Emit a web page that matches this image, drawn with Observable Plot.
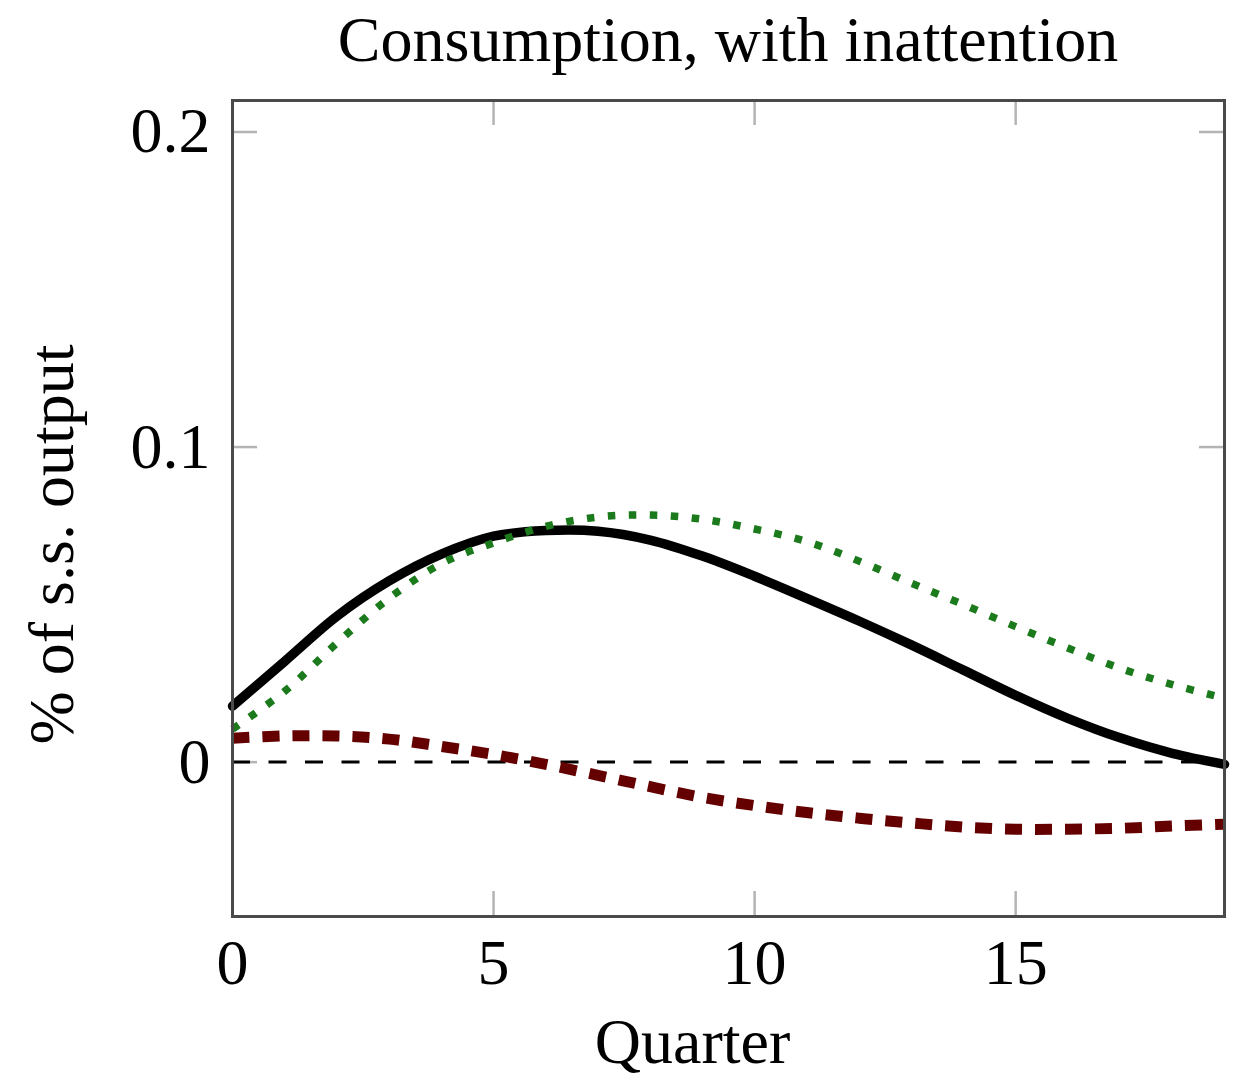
<!DOCTYPE html>
<html>
<head>
<meta charset="utf-8">
<script src="https://cdn.jsdelivr.net/npm/d3@7"></script>
<script src="https://cdn.jsdelivr.net/npm/@observablehq/plot@0.6"></script>
<style>
  html, body { margin: 0; padding: 0; background: #fff; }
  #title {
    width: 1236px; height: 80px; box-sizing: border-box;
    padding-left: 232px; padding-right: 12px;
    text-align: center;
    font-family: "Liberation Serif", serif; font-size: 64px;
    line-height: 80px; color: #000;
  }
  #chart svg { display: block; }
</style>
</head>
<body>
<div id="title">Consumption, with inattention</div>
<div id="chart"></div>
<script>
// Impulse responses of consumption over 20 quarters (% of steady-state output)
const quarters = d3.range(0, 20);
const baseline = [0.0178, 0.032, 0.0463, 0.0575, 0.066, 0.0717, 0.0735, 0.0733, 0.0705, 0.0654,
                  0.059, 0.052, 0.0448, 0.0372, 0.0292, 0.0212, 0.0139, 0.0077, 0.0028, -0.0007];
const dotted   = [0.0105, 0.0225, 0.0378, 0.052, 0.063, 0.0696, 0.0748, 0.0778, 0.0784, 0.0771,
                  0.074, 0.070, 0.0638, 0.0568, 0.050, 0.043, 0.0362, 0.0298, 0.0246, 0.0203];
const dashed   = [0.0076, 0.0083, 0.0083, 0.0073, 0.005, 0.0024, -0.0007, -0.0042, -0.0078, -0.0112,
                  -0.0138, -0.016, -0.0178, -0.0193, -0.0206, -0.0213, -0.0213, -0.021, -0.0203, -0.0197];
const xTicks = [0, 5, 10, 15];
const yTicks = [0, 0.1, 0.2];

const W = 1236, H = 1002;
const mTop = 20, mBottom = 166, mLeft = 232, mRight = 12;
const frameH = H - mTop - mBottom;
const frameW = W - mLeft - mRight;
const tickLen = 25;
const tickColor = "#b4b4b4";
const fontSize = 64;

const series = (vals) => quarters.map((q, i) => ({q, v: vals[i]}));

const chart = Plot.plot({
  width: W,
  height: H,
  marginTop: mTop,
  marginBottom: mBottom,
  marginLeft: mLeft,
  marginRight: mRight,
  style: {fontFamily: "Liberation Serif, serif", fontSize: `${fontSize}px`, color: "#000", background: "#fff"},
  x: {domain: [0, 19]},
  y: {domain: [-0.049, 0.21]},
  marks: [
    // inward ticks on all four sides
    Plot.tickX(xTicks, {x: d => d, stroke: tickColor, strokeWidth: 2.5, insetTop: frameH - tickLen}),
    Plot.tickX(xTicks, {x: d => d, stroke: tickColor, strokeWidth: 2.5, insetBottom: frameH - tickLen}),
    Plot.tickY(yTicks, {y: d => d, stroke: tickColor, strokeWidth: 2.5, insetRight: frameW - tickLen}),
    Plot.tickY(yTicks, {y: d => d, stroke: tickColor, strokeWidth: 2.5, insetLeft: frameW - tickLen}),
    // tick labels
    Plot.axisX(xTicks, {anchor: "bottom", tickSize: 0, tickPadding: 22, label: null, tickFormat: d => `${d}`}),
    Plot.axisY(yTicks, {anchor: "left", tickSize: 0, tickPadding: 22, label: null, tickFormat: d => `${d}`}),
    // zero reference
    Plot.ruleY([0], {stroke: "#000", strokeWidth: 3, strokeDasharray: "18 18.5"}),
    // series
    Plot.line(series(dashed), {x: "q", y: "v", stroke: "#650000", strokeWidth: 11, strokeDasharray: "17 13", strokeLinecap: "butt", curve: "catmull-rom"}),
    Plot.line(series(baseline), {x: "q", y: "v", stroke: "#000", strokeWidth: 9.5, curve: "catmull-rom"}),
    Plot.line(series(dotted), {x: "q", y: "v", stroke: "#1b7a1b", strokeWidth: 7.5, strokeDasharray: "7.5 13.5", strokeLinecap: "butt", curve: "catmull-rom"}),
    // axis titles
    Plot.text(["Quarter"], {frameAnchor: "bottom", dx: -36, dy: 146, lineAnchor: "bottom", fontSize}),
    Plot.text(["% of s.s. output"], {frameAnchor: "left", rotate: -90, dx: -180, dy: 36, lineAnchor: "middle", textAnchor: "middle", fontSize}),
    Plot.frame({stroke: "#4a4a4a", strokeWidth: 3})
  ]
});
document.getElementById("chart").appendChild(chart);
</script>
</body>
</html>
